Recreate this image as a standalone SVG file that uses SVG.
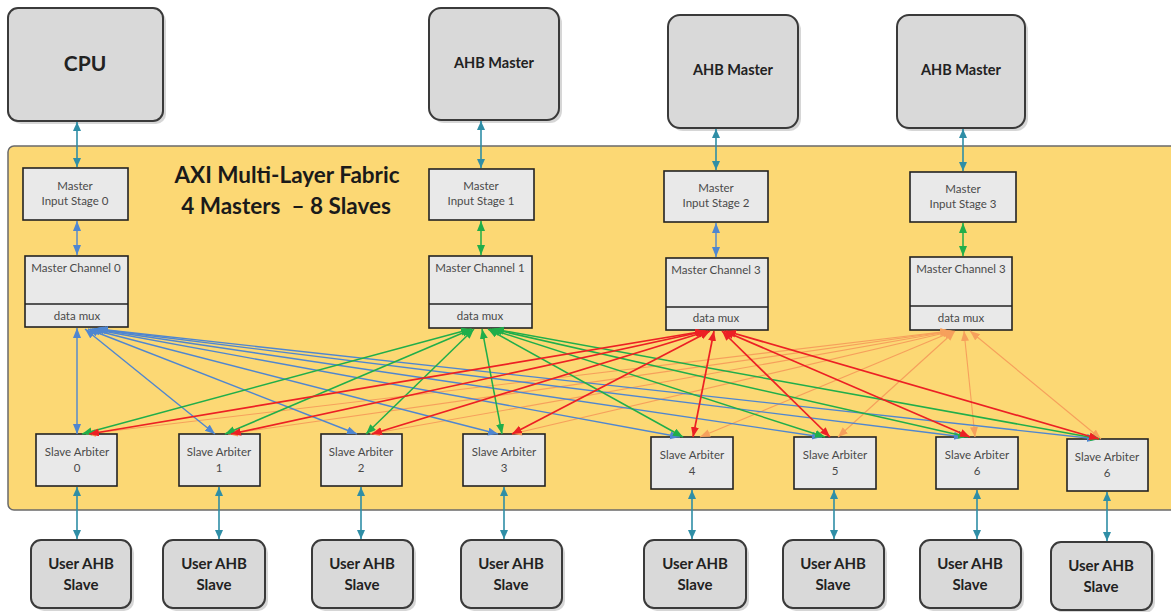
<svg xmlns="http://www.w3.org/2000/svg" width="1171" height="612" viewBox="0 0 1171 612">
<style>
.big{fill:#d9d9d9;stroke:#3a3a3a;stroke-width:2}
.shadow{fill:#000;opacity:0.16}
.blk{fill:#e9e9e9;stroke:#222;stroke-width:1.6}
.bt{font-family:Lato,"Open Sans",sans-serif;font-weight:bold;fill:#222;text-anchor:middle}
.st{font-family:Lato,"Open Sans",sans-serif;font-size:11.5px;fill:#4a4a4a;text-anchor:middle}
.ti{font-family:Lato,"Open Sans",sans-serif;font-weight:bold;font-size:22.5px;fill:#1a1a1a;text-anchor:middle;white-space:pre}
.teal{stroke:#2f8ea6;stroke-width:1.6;fill:none;marker-start:url(#aT);marker-end:url(#aT)}
.bl{stroke:#4f86d0;stroke-width:1.4;fill:none;marker-start:url(#aB);marker-end:url(#aB)}
.gr{stroke:#20ae4a;stroke-width:1.5;fill:none;marker-start:url(#aG);marker-end:url(#aG)}
.rd{stroke:#ec2024;stroke-width:1.7;fill:none;marker-start:url(#aR);marker-end:url(#aR)}
.or{stroke:#f6a05c;stroke-width:1.1;fill:none;marker-start:url(#aO);marker-end:url(#aO)}
</style>
<defs>
<marker id="aT" markerUnits="userSpaceOnUse" markerWidth="10" markerHeight="10" refX="9" refY="4" orient="auto-start-reverse"><path d="M0,0 L9,4 L0,8 z" fill="#2f8ea6"/></marker>
<marker id="aB" markerUnits="userSpaceOnUse" markerWidth="12" markerHeight="10" refX="10" refY="4" orient="auto-start-reverse"><path d="M0,0 L10,4 L0,8 z" fill="#4f86d0"/></marker>
<marker id="aG" markerUnits="userSpaceOnUse" markerWidth="12" markerHeight="10" refX="10" refY="4" orient="auto-start-reverse"><path d="M0,0 L10,4 L0,8 z" fill="#20ae4a"/></marker>
<marker id="aR" markerUnits="userSpaceOnUse" markerWidth="12" markerHeight="10" refX="10" refY="4" orient="auto-start-reverse"><path d="M0,0 L10,4 L0,8 z" fill="#ec2024"/></marker>
<marker id="aO" markerUnits="userSpaceOnUse" markerWidth="12" markerHeight="10" refX="10" refY="4" orient="auto-start-reverse"><path d="M0,0 L10,4 L0,8 z" fill="#f6a05c"/></marker>
</defs>
<rect width="1171" height="612" fill="#ffffff"/>

<g id="fabric">
<rect x="8" y="146" width="1180" height="364" rx="6" fill="#fcd874" stroke="#6a6a6a" stroke-width="1.5"/>
<text class="ti" x="287" y="183">AXI Multi-Layer Fabric</text>
<text class="ti" x="286" y="214" xml:space="preserve">4 Masters  – 8 Slaves</text>
</g>

<g id="cpu"><rect class="shadow" x="11" y="11" width="155" height="113" rx="10"/><rect class="big" x="8" y="8" width="155" height="113" rx="10"/><text class="bt" x="85" y="71" font-size="21">CPU</text></g>
<g id="ahb-master-1"><rect class="shadow" x="432" y="11" width="130" height="112" rx="12"/><rect class="big" x="429" y="8" width="130" height="112" rx="12"/><text class="bt" x="494" y="68" font-size="14.5">AHB Master</text></g>
<g id="ahb-master-2"><rect class="shadow" x="671" y="18" width="130" height="113" rx="12"/><rect class="big" x="668" y="15" width="130" height="113" rx="12"/><text class="bt" x="733" y="75" font-size="14.5">AHB Master</text></g>
<g id="ahb-master-3"><rect class="shadow" x="900" y="18" width="128" height="113" rx="12"/><rect class="big" x="897" y="15" width="128" height="113" rx="12"/><text class="bt" x="961" y="75" font-size="14.5">AHB Master</text></g>

<g id="mis0"><rect class="blk" x="23" y="168" width="105" height="52"/><text class="st" x="75" y="190">Master</text><text class="st" x="75" y="205">Input Stage 0</text></g>
<g id="mis1"><rect class="blk" x="429" y="169" width="105" height="51"/><text class="st" x="481" y="190">Master</text><text class="st" x="481" y="205">Input Stage 1</text></g>
<g id="mis2"><rect class="blk" x="664" y="171" width="104" height="51"/><text class="st" x="716" y="192">Master</text><text class="st" x="716" y="207">Input Stage 2</text></g>
<g id="mis3"><rect class="blk" x="910" y="172" width="106" height="50"/><text class="st" x="963" y="193">Master</text><text class="st" x="963" y="208">Input Stage 3</text></g>

<g id="mc0"><rect class="blk" x="25" y="256" width="103" height="71"/><line x1="25" y1="304" x2="128" y2="304" stroke="#222" stroke-width="1.6"/><text class="st" x="76" y="272">Master Channel 0</text><text class="st" x="77" y="320">data mux</text></g>
<g id="mc1"><rect class="blk" x="429" y="256" width="103" height="72"/><line x1="429" y1="304" x2="532" y2="304" stroke="#222" stroke-width="1.6"/><text class="st" x="480" y="272">Master Channel 1</text><text class="st" x="480" y="320">data mux</text></g>
<g id="mc2"><rect class="blk" x="666" y="258" width="102" height="72"/><line x1="666" y1="307" x2="768" y2="307" stroke="#222" stroke-width="1.6"/><text class="st" x="716" y="274">Master Channel 3</text><text class="st" x="716" y="322">data mux</text></g>
<g id="mc3"><rect class="blk" x="910" y="257" width="102" height="73"/><line x1="910" y1="306" x2="1012" y2="306" stroke="#222" stroke-width="1.6"/><text class="st" x="961" y="273">Master Channel 3</text><text class="st" x="961" y="322">data mux</text></g>

<g id="sa0"><rect class="blk" x="36" y="434" width="81" height="52"/><text class="st" x="77" y="456">Slave Arbiter</text><text class="st" x="77" y="472">0</text></g>
<g id="sa1"><rect class="blk" x="179" y="434" width="81" height="52"/><text class="st" x="219" y="456">Slave Arbiter</text><text class="st" x="219" y="472">1</text></g>
<g id="sa2"><rect class="blk" x="321" y="434" width="81" height="52"/><text class="st" x="361" y="456">Slave Arbiter</text><text class="st" x="361" y="472">2</text></g>
<g id="sa3"><rect class="blk" x="463" y="434" width="82" height="52"/><text class="st" x="504" y="456">Slave Arbiter</text><text class="st" x="504" y="472">3</text></g>
<g id="sa4"><rect class="blk" x="651" y="437" width="82" height="52"/><text class="st" x="692" y="459">Slave Arbiter</text><text class="st" x="692" y="475">4</text></g>
<g id="sa5"><rect class="blk" x="794" y="437" width="82" height="52"/><text class="st" x="835" y="459">Slave Arbiter</text><text class="st" x="835" y="475">5</text></g>
<g id="sa6"><rect class="blk" x="936" y="437" width="82" height="52"/><text class="st" x="977" y="459">Slave Arbiter</text><text class="st" x="977" y="475">6</text></g>
<g id="sa7"><rect class="blk" x="1067" y="439" width="81" height="52"/><text class="st" x="1107" y="461">Slave Arbiter</text><text class="st" x="1107" y="477">6</text></g>

<g id="us0"><rect class="shadow" x="34" y="543" width="100" height="68" rx="10"/><rect class="big" x="31" y="540" width="100" height="68" rx="10"/><text class="bt" x="81" y="569" font-size="15">User AHB</text><text class="bt" x="81" y="590" font-size="15">Slave</text></g>
<g id="us1"><rect class="shadow" x="166" y="543" width="102" height="68" rx="10"/><rect class="big" x="163" y="540" width="102" height="68" rx="10"/><text class="bt" x="214" y="569" font-size="15">User AHB</text><text class="bt" x="214" y="590" font-size="15">Slave</text></g>
<g id="us2"><rect class="shadow" x="315" y="543" width="101" height="68" rx="10"/><rect class="big" x="312" y="540" width="101" height="68" rx="10"/><text class="bt" x="362" y="569" font-size="15">User AHB</text><text class="bt" x="362" y="590" font-size="15">Slave</text></g>
<g id="us3"><rect class="shadow" x="464" y="543" width="101" height="68" rx="10"/><rect class="big" x="461" y="540" width="101" height="68" rx="10"/><text class="bt" x="511" y="569" font-size="15">User AHB</text><text class="bt" x="511" y="590" font-size="15">Slave</text></g>
<g id="us4"><rect class="shadow" x="647" y="543" width="102" height="68" rx="10"/><rect class="big" x="644" y="540" width="102" height="68" rx="10"/><text class="bt" x="695" y="569" font-size="15">User AHB</text><text class="bt" x="695" y="590" font-size="15">Slave</text></g>
<g id="us5"><rect class="shadow" x="786" y="543" width="101" height="68" rx="10"/><rect class="big" x="783" y="540" width="101" height="68" rx="10"/><text class="bt" x="833" y="569" font-size="15">User AHB</text><text class="bt" x="833" y="590" font-size="15">Slave</text></g>
<g id="us6"><rect class="shadow" x="923" y="543" width="101" height="68" rx="10"/><rect class="big" x="920" y="540" width="101" height="68" rx="10"/><text class="bt" x="970" y="569" font-size="15">User AHB</text><text class="bt" x="970" y="590" font-size="15">Slave</text></g>
<g id="us7"><rect class="shadow" x="1054" y="545" width="101" height="68" rx="10"/><rect class="big" x="1051" y="542" width="101" height="68" rx="10"/><text class="bt" x="1101" y="571" font-size="15">User AHB</text><text class="bt" x="1101" y="592" font-size="15">Slave</text></g>

<g id="connectors">
<line class="teal" x1="77" y1="122" x2="77" y2="167"/>
<line class="teal" x1="481" y1="121" x2="481" y2="168"/>
<line class="teal" x1="716" y1="129" x2="716" y2="170"/>
<line class="teal" x1="963" y1="129" x2="963" y2="171"/>
<line class="bl" x1="77" y1="221" x2="77" y2="255"/>
<line class="gr" x1="481" y1="221" x2="481" y2="255"/>
<line class="bl" x1="716" y1="223" x2="716" y2="257"/>
<line class="gr" x1="963" y1="223" x2="963" y2="256"/>
<line class="teal" x1="77" y1="487" x2="77" y2="539"/>
<line class="teal" x1="219" y1="487" x2="219" y2="539"/>
<line class="teal" x1="361" y1="487" x2="361" y2="539"/>
<line class="teal" x1="504" y1="487" x2="504" y2="539"/>
<line class="teal" x1="692" y1="490" x2="692" y2="539"/>
<line class="teal" x1="834" y1="490" x2="834" y2="539"/>
<line class="teal" x1="977" y1="490" x2="977" y2="539"/>
<line class="teal" x1="1107" y1="492" x2="1107" y2="541"/>

<line class="or" x1="950" y1="331" x2="86" y2="434"/>
<line class="or" x1="951" y1="331" x2="228" y2="434"/>
<line class="or" x1="952" y1="331" x2="370" y2="434"/>
<line class="or" x1="953" y1="331" x2="512" y2="434"/>
<line class="or" x1="954" y1="331" x2="700" y2="437"/>
<line class="or" x1="955" y1="331" x2="838" y2="437"/>
<line class="or" x1="964" y1="331" x2="975" y2="437"/>
<line class="or" x1="970" y1="331" x2="1101" y2="439"/>

<line class="bl" x1="77" y1="328" x2="77" y2="434"/>
<line class="bl" x1="85" y1="329" x2="215" y2="434"/>
<line class="bl" x1="88" y1="329" x2="357" y2="434"/>
<line class="bl" x1="90" y1="329" x2="498" y2="434"/>
<line class="bl" x1="92" y1="329" x2="680" y2="437"/>
<line class="bl" x1="94" y1="329" x2="822" y2="437"/>
<line class="bl" x1="96" y1="329" x2="964" y2="437"/>
<line class="bl" x1="98" y1="329" x2="1097" y2="439"/>

<line class="gr" x1="471" y1="329" x2="82" y2="434"/>
<line class="gr" x1="472" y1="329" x2="225" y2="434"/>
<line class="gr" x1="474" y1="329" x2="366" y2="434"/>
<line class="gr" x1="482" y1="329" x2="502" y2="434"/>
<line class="gr" x1="488" y1="329" x2="683" y2="437"/>
<line class="gr" x1="490" y1="329" x2="825" y2="437"/>
<line class="gr" x1="492" y1="329" x2="968" y2="437"/>
<line class="gr" x1="494" y1="329" x2="1100" y2="439"/>

<line class="rd" x1="705" y1="331" x2="89" y2="434"/>
<line class="rd" x1="706" y1="331" x2="231" y2="434"/>
<line class="rd" x1="708" y1="331" x2="372" y2="434"/>
<line class="rd" x1="710" y1="331" x2="512" y2="434"/>
<line class="rd" x1="714" y1="331" x2="693" y2="437"/>
<line class="rd" x1="722" y1="331" x2="830" y2="437"/>
<line class="rd" x1="724" y1="331" x2="970" y2="437"/>
<line class="rd" x1="726" y1="331" x2="1099" y2="439"/>
</g>
</svg>
